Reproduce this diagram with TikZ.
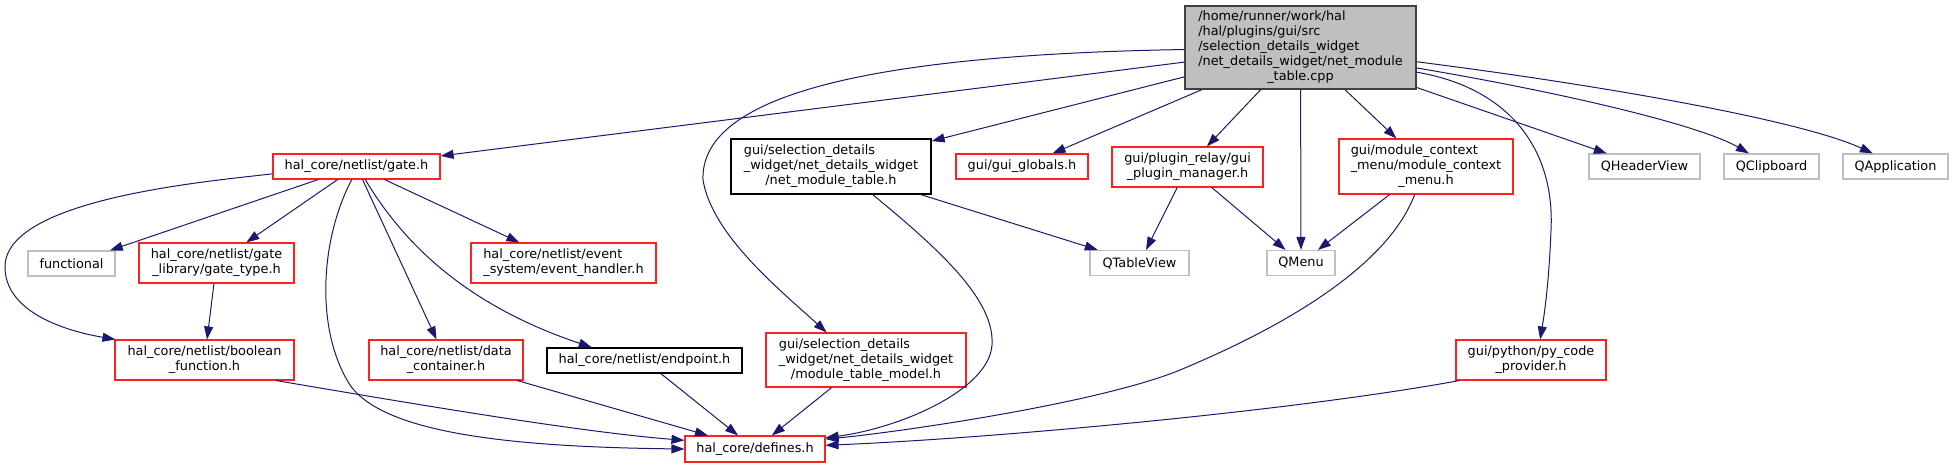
\documentclass[tikz,border=0pt]{standalone}
\usepackage{fontspec}
\setmainfont{DejaVu Sans}
\usetikzlibrary{arrows.meta}
\definecolor{edgeblue}{HTML}{191970}
\definecolor{extgray}{HTML}{BFBFBF}
\definecolor{rootborder}{HTML}{404040}
\definecolor{hdrred}{HTML}{FF2020}
\newcommand{\mlines}[2]{\begin{tabular}{@{}l@{}}#1\\\multicolumn{1}{@{}c@{}}{#2}\end{tabular}}
\begin{document}
\begin{tikzpicture}[x=1pt,y=-1pt,
  box/.style={draw, line width=1.1pt, fill=white, inner sep=0pt, font=\fontsize{12.85}{15}\selectfont},
  redbox/.style={box, draw=hdrred},
  blackbox/.style={box, draw=black, line width=1.3pt},
  graybox/.style={box, draw=extgray},
  rootbox/.style={box, draw=rootborder, fill=extgray, line width=1.3pt},
  dep/.style={draw=edgeblue, line width=1pt, -{Triangle[length=13pt,width=9pt]}}
]
\useasboundingbox (0,0) rectangle (1953,468);

% nodes
\node[rootbox, minimum width=231pt, minimum height=83pt] (root) at (1300.5,47.5)
  {\mlines{/home/runner/work/hal\\/hal/plugins/gui/src\\/selection\_details\_widget\\/net\_details\_widget/net\_module}{\_table.cpp}};
\node[redbox, minimum width=167pt, minimum height=25pt] (gate) at (356.5,166.5) {hal\_core/netlist/gate.h};
\node[blackbox, minimum width=200pt, minimum height=55pt] (nmt) at (831,166.5)
  {\mlines{gui/selection\_details\\\_widget/net\_details\_widget}{/net\_module\_table.h}};
\node[redbox, minimum width=132pt, minimum height=25pt] (globals) at (1022,166.5) {gui/gui\_globals.h};
\node[redbox, minimum width=151pt, minimum height=40pt] (plugin) at (1187.5,167)
  {\mlines{gui/plugin\_relay/gui}{\_plugin\_manager.h}};
\node[redbox, minimum width=174pt, minimum height=55pt] (mcm) at (1426,166.5)
  {\mlines{gui/module\_context\\\_menu/module\_context}{\_menu.h}};
\node[graybox, minimum width=111pt, minimum height=25pt] (qheader) at (1644.5,166.5) {QHeaderView};
\node[graybox, minimum width=95pt, minimum height=25pt] (qclip) at (1771.5,166.5) {QClipboard};
\node[graybox, minimum width=105pt, minimum height=25pt] (qapp) at (1895.5,166.5) {QApplication};
\node[graybox, minimum width=87pt, minimum height=25pt] (functional) at (71.5,263.5) {functional};
\node[redbox, minimum width=155pt, minimum height=40pt] (gatetype) at (216.5,263)
  {\mlines{hal\_core/netlist/gate}{\_library/gate\_type.h}};
\node[redbox, minimum width=185pt, minimum height=40pt] (event) at (563.5,263)
  {\mlines{hal\_core/netlist/event}{\_system/event\_handler.h}};
\node[graybox, minimum width=99pt, minimum height=25pt] (qtable) at (1139.5,263) {QTableView};
\node[graybox, minimum width=68pt, minimum height=25pt] (qmenu) at (1301,263) {QMenu};
\node[redbox, minimum width=179pt, minimum height=40pt] (boolean) at (204.5,360)
  {\mlines{hal\_core/netlist/boolean}{\_function.h}};
\node[redbox, minimum width=154pt, minimum height=40pt] (datac) at (446,360)
  {\mlines{hal\_core/netlist/data}{\_container.h}};
\node[blackbox, minimum width=195pt, minimum height=25pt] (endpoint) at (644.5,360.5) {hal\_core/netlist/endpoint.h};
\node[redbox, minimum width=200pt, minimum height=54pt] (mtm) at (866,360)
  {\mlines{gui/selection\_details\\\_widget/net\_details\_widget}{/module\_table\_model.h}};
\node[redbox, minimum width=150pt, minimum height=40pt] (pycode) at (1531,360)
  {\mlines{gui/python/py\_code}{\_provider.h}};
\node[redbox, minimum width=140pt, minimum height=26pt] (defines) at (755,449) {hal\_core/defines.h};

% edges from root
\draw[dep] (root) -- (gate);
\draw[dep] (root) -- (nmt);
\draw[dep] (root) -- (globals);
\draw[dep] (root) -- (plugin);
\draw[dep] (root) -- (qmenu);
\draw[dep] (root) -- (mcm);
\draw[dep] (root) -- (qheader);
\draw[dep] (root.-10) .. controls (1560,92) and (1700,125) .. (qclip.150);
\draw[dep] (root.-7) .. controls (1600,85) and (1800,120) .. (qapp.150);
\draw[dep] (root.-12) .. controls (1510,88) and (1555,150) .. (1551,230) .. controls (1549,280) and (1545,310) .. (pycode.66);
\draw[dep] (root.-179) .. controls (850,55) and (700,100) .. (703,180) .. controls (712,235) and (780,290) .. (mtm.145);

% edges from gate.h
\draw[dep] (gate) -- (functional);
\draw[dep] (gate) -- (gatetype);
\draw[dep] (gate) -- (datac);
\draw[dep] (gate) -- (event);
\draw[dep] (gate.185) .. controls (200,182) and (5,200) .. (5,267) .. controls (5,310) and (60,330) .. (boolean.167);
\draw[dep] (gate.-110) .. controls (320,240) and (315,330) .. (350,385) .. controls (385,435) and (520,447) .. (defines.west);
\draw[dep] (gate.-56) .. controls (410,255) and (480,310) .. (endpoint.166);

% other edges
\draw[dep] (gatetype) -- (boolean);
\draw[dep] (boolean.-16) .. controls (420,405) and (580,432) .. (defines.173);
\draw[dep] (datac) -- (defines);
\draw[dep] (endpoint) -- (defines);
\draw[dep] (mtm) -- (defines);
\draw[dep] (nmt) -- (qtable);
\draw[dep] (nmt.-34) .. controls (940,250) and (995,300) .. (992,345) .. controls (989,390) and (900,428) .. (defines.9);
\draw[dep] (plugin) -- (qtable);
\draw[dep] (plugin) -- (qmenu);
\draw[dep] (mcm) -- (qmenu);
\draw[dep] (mcm.-112) .. controls (1390,260) and (1300,320) .. (1180,370) .. controls (1100,403) and (900,432) .. (defines.8);
\draw[dep] (pycode.196) .. controls (1300,410) and (1000,438) .. (defines.3);
\end{tikzpicture}
\end{document}
